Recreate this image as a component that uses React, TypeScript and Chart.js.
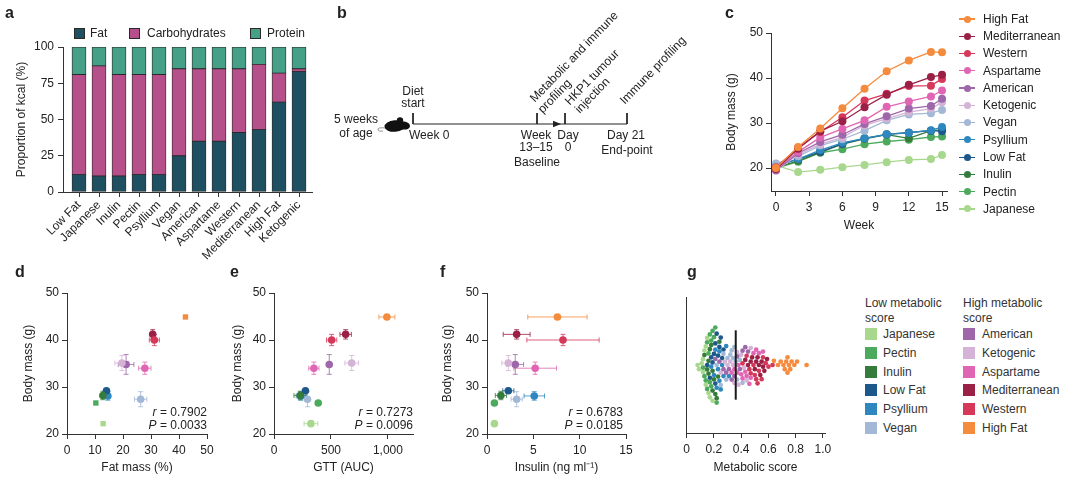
import React, { useEffect, useRef } from 'react';
import { Chart, registerables } from 'chart.js';
Chart.register(...registerables);

const FONT = '"Liberation Sans", Arial, Helvetica, sans-serif';
const INK = '#222222';
const AXIS = '#333333';
Chart.defaults.font.family = FONT;
Chart.defaults.color = INK;

// ---------- Panel a: macronutrient composition ----------
const kcalDiets = ['Low Fat', 'Japanese', 'Inulin', 'Pectin', 'Psyllium', 'Vegan', 'American', 'Aspartame', 'Western', 'Mediterranean', 'High Fat', 'Ketogenic'];
const kcalFat = [12, 11, 11, 12, 12, 25, 35, 35, 41, 43, 62, 83];
const kcalCarbohydrates = [69, 76, 70, 69, 69, 60, 50, 50, 44, 45, 20, 2];
const kcalProtein = [19, 13, 19, 19, 19, 15, 15, 15, 15, 12, 18, 15];
const kcalTicks = [0, 25, 50, 75, 100];
const FAT_C = '#1f5062';
const CARB_C = '#b5508b';
const PROT_C = '#46a087';

// ---------- Diets ----------
const dietNames = ['High Fat', 'Mediterranean', 'Western', 'Aspartame', 'American', 'Ketogenic', 'Vegan', 'Psyllium', 'Low Fat', 'Inulin', 'Pectin', 'Japanese'];
const dietColors: Record<string, string> = {
  'High Fat': '#f58b3c',
  'Mediterranean': '#9a2045',
  'Western': '#d6385a',
  'Aspartame': '#e066b4',
  'American': '#9e67a9',
  'Ketogenic': '#d4b3d6',
  'Vegan': '#a3b8d6',
  'Psyllium': '#2e88bf',
  'Low Fat': '#1c5889',
  'Inulin': '#357b3c',
  'Pectin': '#4caa5c',
  'Japanese': '#a8d88e',
};

// ---------- Panel c: body mass over time ----------
const weeks = [0, 2, 4, 6, 8, 10, 12, 14, 15];
const weekTicks = [0, 3, 6, 9, 12, 15];
const massTicks = [20, 30, 40, 50];
const massHighFat = [20.0, 24.7, 28.8, 33.3, 37.6, 41.5, 43.9, 45.8, 45.7];
const massMediterranean = [19.8, 24.3, 28.2, 30.4, 33.5, 36.3, 38.5, 40.2, 40.7];
const massWestern = [20.2, 24.5, 28.0, 31.3, 35.0, 36.5, 38.2, 38.3, 39.8];
const massAspartame = [19.8, 23.6, 26.8, 28.7, 30.6, 33.6, 34.8, 35.9, 37.2];
const massAmerican = [19.5, 23.3, 25.8, 27.4, 29.8, 31.5, 33.2, 33.8, 35.4];
const massKetogenic = [19.4, 23.0, 25.3, 26.8, 29.5, 31.0, 32.4, 33.2, 34.6];
const massVegan = [21.0, 22.6, 25.0, 26.4, 28.3, 30.6, 31.9, 32.2, 32.9];
const massPsyllium = [20.6, 22.0, 24.0, 25.6, 26.6, 27.5, 27.8, 28.4, 29.1];
const massLowFat = [20.5, 22.0, 23.6, 25.4, 26.6, 27.5, 27.9, 28.3, 28.2];
const massInulin = [20.1, 21.6, 23.5, 25.3, 26.5, 27.4, 26.6, 28.3, 28.5];
const massPectin = [20.0, 21.4, 23.4, 24.2, 25.3, 25.9, 26.3, 26.9, 27.0];
const massJapanese = [20.6, 19.1, 19.6, 20.2, 20.7, 21.3, 21.8, 22.0, 22.9];
const massByDiet: Record<string, number[]> = {
  'High Fat': massHighFat, 'Mediterranean': massMediterranean, 'Western': massWestern,
  'Aspartame': massAspartame, 'American': massAmerican, 'Ketogenic': massKetogenic,
  'Vegan': massVegan, 'Psyllium': massPsyllium, 'Low Fat': massLowFat,
  'Inulin': massInulin, 'Pectin': massPectin, 'Japanese': massJapanese,
};

// ---------- Panels d-f (order = dietNames) ----------
const bodyMass = [44.9, 41.2, 40.0, 34.0, 34.8, 35.1, 27.4, 28.1, 29.2, 28.2, 26.6, 22.2];
const bodyMassErr = [0.2, 1.0, 1.2, 1.3, 2.1, 1.6, 1.6, 0.9, 0.7, 0.9, 0.4, 0.3];
const fatMass = [42.3, 30.6, 31.2, 27.8, 21.1, 19.6, 26.3, 14.6, 14.1, 12.8, 10.3, 12.9];
const fatMassErr = [0.4, 1.0, 1.8, 2.2, 2.8, 2.5, 2.2, 0.9, 0.8, 0.9, 0.5, 0.5];
const gtt = [991, 629, 506, 350, 485, 682, 294, 235, 276, 230, 388, 324];
const gttErr = [70, 50, 45, 45, 25, 60, 35, 40, 30, 55, 30, 60];
const insulin = [7.6, 3.2, 8.2, 5.2, 3.05, 2.3, 3.2, 5.1, 2.3, 1.5, 0.8, 0.8];
const insulinErr = [3.2, 1.45, 3.9, 2.3, 0.9, 0.7, 0.6, 1.1, 0.6, 0.6, 0.3, 0.3];
const fatTicks = [0, 10, 20, 30, 40, 50];
const gttTicks = [0, 500, 1000];
const insulinTicks = [0, 5, 10, 15];
const bodyTicks = [20, 30, 40, 50];

// ---------- Panel g: metabolic score per mouse ----------
const scoreJapanese = [0.08, 0.09, 0.11, 0.12, 0.12, 0.13, 0.14, 0.14, 0.15, 0.16, 0.17, 0.19];
const scorePectin = [0.12, 0.13, 0.14, 0.15, 0.15, 0.16, 0.17, 0.17, 0.18, 0.18, 0.19, 0.20, 0.21, 0.22];
const scoreInulin = [0.13, 0.15, 0.16, 0.16, 0.17, 0.18, 0.19, 0.19, 0.20, 0.21, 0.22, 0.23, 0.24];
const scoreLowFat = [0.15, 0.17, 0.18, 0.19, 0.20, 0.21, 0.21, 0.22, 0.23, 0.24, 0.25, 0.26, 0.27];
const scorePsyllium = [0.18, 0.20, 0.21, 0.22, 0.23, 0.24, 0.24, 0.25, 0.26, 0.27, 0.29, 0.31];
const scoreVegan = [0.22, 0.25, 0.27, 0.29, 0.30, 0.32, 0.33, 0.34, 0.35, 0.36, 0.37, 0.39, 0.41];
const scoreAmerican = [0.21, 0.24, 0.27, 0.29, 0.31, 0.33, 0.35, 0.37, 0.39, 0.41, 0.43, 0.45];
const scoreKetogenic = [0.25, 0.28, 0.30, 0.32, 0.34, 0.35, 0.37, 0.38, 0.40, 0.42, 0.44, 0.47];
const scoreAspartame = [0.33, 0.35, 0.37, 0.38, 0.40, 0.41, 0.43, 0.44, 0.46, 0.47, 0.49, 0.51, 0.53, 0.56];
const scoreWestern = [0.41, 0.44, 0.46, 0.47, 0.49, 0.50, 0.51, 0.52, 0.53, 0.55, 0.56, 0.58, 0.60, 0.63];
const scoreMediterranean = [0.43, 0.45, 0.47, 0.48, 0.50, 0.51, 0.52, 0.53, 0.54, 0.55, 0.56, 0.57, 0.59];
const scoreHighFat = [0.64, 0.67, 0.69, 0.71, 0.72, 0.73, 0.74, 0.74, 0.75, 0.76, 0.77, 0.79, 0.81, 0.88];
const scoreByDiet: Record<string, number[]> = {
  'High Fat': scoreHighFat, 'Mediterranean': scoreMediterranean, 'Western': scoreWestern,
  'Aspartame': scoreAspartame, 'American': scoreAmerican, 'Ketogenic': scoreKetogenic,
  'Vegan': scoreVegan, 'Psyllium': scorePsyllium, 'Low Fat': scoreLowFat,
  'Inulin': scoreInulin, 'Pectin': scorePectin, 'Japanese': scoreJapanese,
};
const scoreThreshold = 0.36;
const scoreTicks = [0, 0.2, 0.4, 0.6, 0.8, 1.0];
const lowScoreDiets = ['Japanese', 'Pectin', 'Inulin', 'Low Fat', 'Psyllium', 'Vegan'];
const highScoreDiets = ['American', 'Ketogenic', 'Aspartame', 'Mediterranean', 'Western', 'High Fat'];

// ---------- Panel b: timeline (diagram units) ----------
const timelineStops = [93, 217, 245, 307];
const timelineArrowAt = 240;
const timelineLevel = 124;
const timelineTick = 11;

// beeswarm layout (pixel-space packing, converted back to data units)
function beeswarm(pxPerX: number, pxPerY: number, diam: number) {
  const items: { name: string; x: number }[] = [];
  dietNames.forEach((n) => scoreByDiet[n].forEach((v) => items.push({ name: n, x: v })));
  items.sort((a, b) => a.x - b.x || dietNames.indexOf(a.name) - dietNames.indexOf(b.name));
  const placed: { px: number; py: number; name: string; x: number }[] = [];
  items.forEach((it, k) => {
    const px = it.x * pxPerX;
    const near = placed.filter((p) => Math.abs(p.px - px) < diam);
    const cands = [0];
    near.forEach((p) => {
      const dy = Math.sqrt(diam * diam - (p.px - px) ** 2);
      if (k % 2) cands.push(p.py - dy, p.py + dy); else cands.push(p.py + dy, p.py - dy);
    });
    cands.sort((a, b) => Math.abs(a) - Math.abs(b));
    let chosen = 0;
    for (const c of cands) {
      if (near.every((p) => (p.px - px) ** 2 + (p.py - c) ** 2 >= diam * diam - 1e-6)) { chosen = c; break; }
    }
    placed.push({ px, py: chosen, name: it.name, x: it.x });
  });
  const out: Record<string, { x: number; y: number }[]> = {};
  dietNames.forEach((n) => (out[n] = []));
  placed.forEach((p) => out[p.name].push({ x: p.x, y: p.py / pxPerY }));
  return out;
}

const fixedTicks = (vals: number[]) => (s: any) => { s.ticks = vals.map((v) => ({ value: v })); };
const tickFont = { family: FONT, size: 12 };
const titleFont = { family: FONT, size: 12 };
const gridStyle = { display: true, drawOnChartArea: false, drawTicks: true, tickLength: 5, color: AXIS, lineWidth: 1 };
const borderStyle = { display: true, color: AXIS, width: 1 };
const commonOpts = {
  animation: false,
  responsive: false,
  events: [],
  plugins: { legend: { display: false }, tooltip: { enabled: false } },
};

const errorBars = {
  id: 'errorBars',
  beforeDatasetsDraw(chart: any) {
    const { ctx } = chart;
    const xs = chart.scales.x;
    const ys = chart.scales.y;
    chart.data.datasets.forEach((ds: any) => {
      if (!ds.errX) return;
      ctx.save();
      ctx.lineWidth = 1;
      ctx.globalAlpha = 0.8;
      ds.data.forEach((p: any, j: number) => {
        const col = Array.isArray(ds.backgroundColor) ? ds.backgroundColor[j] : ds.backgroundColor;
        ctx.strokeStyle = col;
        const px = xs.getPixelForValue(p.x);
        const py = ys.getPixelForValue(p.y);
        const x1 = xs.getPixelForValue(p.x - ds.errX[j]);
        const x2 = xs.getPixelForValue(p.x + ds.errX[j]);
        const y1 = ys.getPixelForValue(p.y - ds.errY[j]);
        const y2 = ys.getPixelForValue(p.y + ds.errY[j]);
        const c = 2.5;
        ctx.beginPath();
        if (x2 - x1 > 8) {
          ctx.moveTo(x1, py); ctx.lineTo(x2, py);
          ctx.moveTo(x1, py - c); ctx.lineTo(x1, py + c);
          ctx.moveTo(x2, py - c); ctx.lineTo(x2, py + c);
        }
        if (y1 - y2 > 8) {
          ctx.moveTo(px, y1); ctx.lineTo(px, y2);
          ctx.moveTo(px - c, y1); ctx.lineTo(px + c, y1);
          ctx.moveTo(px - c, y2); ctx.lineTo(px + c, y2);
        }
        ctx.stroke();
      });
      ctx.restore();
    });
  },
};

const timelineArt = {
  id: 'timelineArt',
  afterDatasetsDraw(chart: any) {
    const { ctx } = chart;
    const xs = chart.scales.x;
    const ys = chart.scales.y;
    const ax = xs.getPixelForValue(timelineArrowAt);
    const ay = ys.getPixelForValue(timelineLevel);
    ctx.save();
    ctx.fillStyle = INK;
    ctx.beginPath();
    ctx.moveTo(ax - 7, ay - 3.2);
    ctx.lineTo(ax + 1, ay);
    ctx.lineTo(ax - 7, ay + 3.2);
    ctx.closePath();
    ctx.fill();
    // mouse silhouette
    const mx = xs.getPixelForValue(75);
    const my = ys.getPixelForValue(126);
    ctx.strokeStyle = '#888';
    ctx.lineWidth = 0.9;
    ctx.beginPath();
    ctx.moveTo(mx - 9, my + 2);
    ctx.quadraticCurveTo(mx - 18, my + 1, mx - 17, my + 4);
    ctx.quadraticCurveTo(mx - 16, my + 6, mx - 12, my + 5);
    ctx.stroke();
    ctx.fillStyle = '#111';
    ctx.beginPath();
    ctx.ellipse(mx, my, 10.5, 5.8, -0.08, 0, Math.PI * 2);
    ctx.fill();
    ctx.beginPath();
    ctx.ellipse(mx + 9, my - 0.5, 6, 4, 0.15, 0, Math.PI * 2);
    ctx.fill();
    ctx.beginPath();
    ctx.arc(mx + 5, my - 5.5, 3.2, 0, Math.PI * 2);
    ctx.fill();
    ctx.restore();
  },
};

function scatterPanel(xVals: number[], xErr: number[], xMax: number, xTicks: number[], xTitle: string, yW: number, padRight: number, yTitlePad: number, styles?: string[]) {
  return {
    type: 'scatter',
    data: {
      datasets: [{
        data: xVals.map((v, i) => ({ x: v, y: bodyMass[i] })),
        backgroundColor: dietNames.map((n) => dietColors[n]),
        pointRadius: 3.8,
        pointBorderWidth: 0,
        pointStyle: styles || 'circle',
        errX: xErr,
        errY: bodyMassErr,
        clip: false,
      }],
    },
    options: {
      ...commonOpts,
      layout: { padding: { left: 0, top: 31, right: padRight, bottom: 0 } },
      scales: {
        x: {
          type: 'linear', min: 0, max: xMax,
          afterBuildTicks: fixedTicks(xTicks),
          grid: gridStyle, border: borderStyle,
          ticks: { font: tickFont, color: INK, padding: 4 },
          title: { display: true, text: xTitle, font: titleFont, color: INK, padding: { top: 0, bottom: 2 } },
          afterFit: (s: any) => { s.height = 43; },
        },
        y: {
          type: 'linear', min: 20, max: 50,
          afterBuildTicks: fixedTicks(bodyTicks),
          grid: gridStyle, border: borderStyle,
          ticks: { font: tickFont, color: INK, padding: 3 },
          title: { display: true, text: 'Body mass (g)', font: titleFont, color: INK, padding: { top: yTitlePad, bottom: 0 } },
          afterFit: (s: any) => { s.width = yW; },
        },
      },
    },
    plugins: [errorBars],
  };
}

type TP = { x: number; y: number; size?: number; align?: 'left' | 'center' | 'right'; bold?: boolean; rot?: number; color?: string; children: React.ReactNode };
function Txt({ x, y, size = 12, align = 'left', bold = false, rot = 0, color = INK, children }: TP) {
  const lh = size * 1.2;
  const style: React.CSSProperties = {
    position: 'absolute', top: y - size * 0.6, height: lh, lineHeight: `${lh}px`,
    fontSize: size, fontWeight: bold ? 700 : 400, whiteSpace: 'nowrap', color, fontFamily: FONT,
  };
  if (rot) {
    style.left = x;
    style.transformOrigin = `0px ${size * 0.6}px`;
    style.transform = `rotate(${rot}deg)`;
  } else if (align === 'left') style.left = x;
  else if (align === 'center') { style.left = x; style.transform = 'translateX(-50%)'; }
  else style.right = 1080 - x;
  return <div style={style}>{children}</div>;
}

function Box({ x, y, w, h, color, border }: { x: number; y: number; w: number; h: number; color: string; border?: string }) {
  return <div style={{ position: 'absolute', left: x, top: y, width: w, height: h, background: color, boxSizing: 'border-box', border: border ? `1px solid ${border}` : undefined }} />;
}

const canvasBoxes = {
  a: [0, 0, 320, 265],
  b: [320, 0, 380, 200],
  c: [690, 0, 270, 240],
  d: [0, 262, 222, 215],
  e: [222, 262, 210, 215],
  f: [432, 262, 210, 215],
  g: [642, 262, 200, 215],
};

export default function App() {
  const refs = {
    a: useRef<HTMLCanvasElement>(null), b: useRef<HTMLCanvasElement>(null), c: useRef<HTMLCanvasElement>(null),
    d: useRef<HTMLCanvasElement>(null), e: useRef<HTMLCanvasElement>(null), f: useRef<HTMLCanvasElement>(null),
    g: useRef<HTMLCanvasElement>(null),
  };

  useEffect(() => {
    document.body.style.margin = '0';
    const charts: Chart[] = [];

    // a
    const barDs = (label: string, vals: number[], color: string) => ({
      label, data: vals.map((v, i) => ({ x: i, y: v })), backgroundColor: color,
      borderColor: '#2a2a2a', borderWidth: 0.8, borderSkipped: false, barThickness: 14,
    });
    charts.push(new Chart(refs.a.current!, {
      type: 'bar',
      data: { datasets: [barDs('Fat', kcalFat, FAT_C), barDs('Carbohydrates', kcalCarbohydrates, CARB_C), barDs('Protein', kcalProtein, PROT_C)] },
      options: {
        ...commonOpts,
        layout: { padding: { left: 0, top: 47, right: 8, bottom: 0 } },
        scales: {
          x: {
            type: 'linear', stacked: true, min: -0.8, max: 11.65, offset: false,
            afterBuildTicks: fixedTicks(kcalDiets.map((_, i) => i)),
            grid: { ...gridStyle, offset: false }, border: borderStyle,
            ticks: { font: tickFont, color: INK, padding: 1, minRotation: 45, maxRotation: 45, autoSkip: false, callback: (v: any) => kcalDiets[v] },
            afterFit: (s: any) => { s.height = 73; },
          },
          y: {
            type: 'linear', stacked: true, min: 0, max: 100,
            afterBuildTicks: fixedTicks(kcalTicks),
            grid: gridStyle, border: borderStyle,
            ticks: { font: tickFont, color: INK, padding: 4 },
            title: { display: true, text: 'Proportion of kcal (%)', font: titleFont, color: INK, padding: { top: 14, bottom: 0 } },
            afterFit: (s: any) => { s.width = 63; },
          },
        },
      },
    } as any));

    // b
    const lineDs = (pts: { x: number; y: number }[]) => ({ data: pts, borderColor: INK, borderWidth: 1, pointRadius: 0, clip: false });
    charts.push(new Chart(refs.b.current!, {
      type: 'line',
      data: {
        datasets: [
          lineDs([{ x: timelineStops[0], y: timelineLevel }, { x: timelineStops[timelineStops.length - 1], y: timelineLevel }]),
          ...timelineStops.map((s) => lineDs([{ x: s, y: timelineLevel - timelineTick }, { x: s, y: timelineLevel }])),
        ],
      },
      options: {
        ...commonOpts,
        layout: { padding: 0 },
        scales: {
          x: { type: 'linear', display: false, min: 0, max: 380 },
          y: { type: 'linear', display: false, min: 0, max: 200, reverse: true },
        },
      },
      plugins: [timelineArt],
    } as any));

    // c
    charts.push(new Chart(refs.c.current!, {
      type: 'line',
      data: {
        datasets: dietNames.map((n) => ({
          label: n,
          data: weeks.map((w, i) => ({ x: w, y: massByDiet[n][i] })),
          borderColor: dietColors[n], backgroundColor: dietColors[n],
          borderWidth: 1.3, pointRadius: 4, pointBorderWidth: 0, clip: false,
        })),
      },
      options: {
        ...commonOpts,
        layout: { padding: { left: 0, top: 33, right: 13, bottom: 0 } },
        scales: {
          x: {
            type: 'linear', min: -0.45, max: 15.45,
            afterBuildTicks: fixedTicks(weekTicks),
            grid: gridStyle, border: borderStyle,
            ticks: { font: tickFont, color: INK, padding: 4 },
            title: { display: true, text: 'Week', font: titleFont, color: INK, padding: { top: 0, bottom: 7 } },
            afterFit: (s: any) => { s.height = 49; },
          },
          y: {
            type: 'linear', min: 14.9, max: 50,
            afterBuildTicks: fixedTicks(massTicks),
            grid: gridStyle, border: borderStyle,
            ticks: { font: tickFont, color: INK, padding: 3 },
            title: { display: true, text: 'Body mass (g)', font: titleFont, color: INK, padding: { top: 34, bottom: 0 } },
            afterFit: (s: any) => { s.width = 81; },
          },
        },
      },
    } as any));

    // d, e, f
    const dStyles = dietNames.map((n) => (n === 'High Fat' || n === 'Japanese' || n === 'Pectin' ? 'rect' : 'circle'));
    charts.push(new Chart(refs.d.current!, scatterPanel(fatMass, fatMassErr, 50, fatTicks, 'Fat mass (%)', 67, 15, 21, dStyles) as any));
    charts.push(new Chart(refs.e.current!, scatterPanel(gtt, gttErr, 1220, gttTicks, 'GTT (AUC)', 52, 19, 8) as any));
    charts.push(new Chart(refs.f.current!, scatterPanel(insulin, insulinErr, 15, insulinTicks, 'Insulin (ng ml\u207B\u00B9)', 55, 16, 8) as any));

    // g
    const swarm = beeswarm(139 / 1.02, 68, 4.4);
    charts.push(new Chart(refs.g.current!, {
      type: 'scatter',
      data: {
        datasets: [
          {
            type: 'line', data: [{ x: scoreThreshold, y: -0.51 }, { x: scoreThreshold, y: 0.51 }],
            borderColor: '#1a1a1a', borderWidth: 2, pointRadius: 0, order: 0,
          },
          ...dietNames.map((n) => ({
            data: swarm[n], backgroundColor: dietColors[n], pointRadius: 2.35, pointBorderWidth: 0, order: 1, clip: false,
          })),
        ],
      },
      options: {
        ...commonOpts,
        layout: { padding: { left: 0, top: 35, right: 17, bottom: 0 } },
        scales: {
          x: {
            type: 'linear', min: -0.005, max: 1.015,
            afterBuildTicks: fixedTicks(scoreTicks),
            grid: gridStyle, border: borderStyle,
            ticks: { font: tickFont, color: INK, padding: 4, callback: (v: any) => (v === 0 ? '0' : Number(v).toFixed(1)) },
            title: { display: true, text: 'Metabolic score', font: titleFont, color: INK, padding: { top: 0, bottom: 2 } },
            afterFit: (s: any) => { s.height = 44; },
          },
          y: {
            type: 'linear', min: -1, max: 1,
            grid: { display: false }, border: borderStyle,
            ticks: { display: false },
            afterFit: (s: any) => { s.width = 44; },
          },
        },
      },
    } as any));

    return () => charts.forEach((c) => c.destroy());
  }, []);

  const cv = (k: keyof typeof canvasBoxes) => {
    const [l, t, w, h] = canvasBoxes[k];
    return <canvas key={k} ref={refs[k]} width={w} height={h} style={{ position: 'absolute', left: l, top: t, width: w, height: h }} />;
  };

  return (
    <div style={{ position: 'relative', width: 1080, height: 477, background: '#ffffff', overflow: 'hidden', fontFamily: FONT, color: INK }}>
      {cv('a')}{cv('b')}{cv('c')}{cv('d')}{cv('e')}{cv('f')}{cv('g')}

      {/* panel letters */}
      <Txt x={5} y={12.3} size={16} bold>a</Txt>
      <Txt x={337} y={12.3} size={16} bold>b</Txt>
      <Txt x={725} y={12.3} size={16} bold>c</Txt>
      <Txt x={15} y={271.3} size={16} bold>d</Txt>
      <Txt x={230} y={271.3} size={16} bold>e</Txt>
      <Txt x={440} y={271.3} size={16} bold>f</Txt>
      <Txt x={687} y={271.3} size={16} bold>g</Txt>

      {/* panel a legend */}
      <Box x={74} y={28} w={11} h={11} color={FAT_C} border="#2a2a2a" />
      <Txt x={90} y={33.5}>Fat</Txt>
      <Box x={129} y={28} w={11} h={11} color={CARB_C} border="#2a2a2a" />
      <Txt x={147} y={33.5}>Carbohydrates</Txt>
      <Box x={250} y={28} w={11} h={11} color={PROT_C} border="#2a2a2a" />
      <Txt x={267} y={33.5}>Protein</Txt>

      {/* panel b texts */}
      <Txt x={356} y={119} align="center">5 weeks</Txt>
      <Txt x={356} y={133} align="center">of age</Txt>
      <Txt x={413} y={91} align="center">Diet</Txt>
      <Txt x={413} y={103} align="center">start</Txt>
      <Txt x={409} y={135}>Week 0</Txt>
      <Txt x={536} y={135} align="center">Week</Txt>
      <Txt x={536} y={147} align="center">13–15</Txt>
      <Txt x={537} y={162} align="center">Baseline</Txt>
      <Txt x={568} y={135} align="center">Day</Txt>
      <Txt x={568} y={147} align="center">0</Txt>
      <Txt x={626} y={135} align="center">Day 21</Txt>
      <Txt x={627} y={150} align="center">End-point</Txt>
      <Txt x={532} y={100} rot={-46}>Metabolic and immune</Txt>
      <Txt x={540} y={111} rot={-46}>profiling</Txt>
      <Txt x={567} y={103} rot={-46}>HKP1 tumour</Txt>
      <Txt x={577} y={111} rot={-46}>injection</Txt>
      <Txt x={622} y={102} rot={-46}>Immune profiling</Txt>

      {/* panel c legend */}
      {dietNames.map((n, i) => {
        const y = 19 + i * 17.27;
        return (
          <React.Fragment key={n}>
            <div style={{ position: 'absolute', left: 959, top: y - 0.6, width: 16, height: 1.2, background: dietColors[n] }} />
            <div style={{ position: 'absolute', left: 963.5, top: y - 3.5, width: 7, height: 7, borderRadius: '50%', background: dietColors[n] }} />
            <Txt x={983} y={y}>{n}</Txt>
          </React.Fragment>
        );
      })}

      {/* correlation annotations */}
      <Txt x={207} y={412} align="right"><i>r</i> = 0.7902</Txt>
      <Txt x={207} y={425.5} align="right"><i>P</i> = 0.0033</Txt>
      <Txt x={413} y={412} align="right"><i>r</i> = 0.7273</Txt>
      <Txt x={413} y={425.5} align="right"><i>P</i> = 0.0096</Txt>
      <Txt x={623} y={412} align="right"><i>r</i> = 0.6783</Txt>
      <Txt x={623} y={425.5} align="right"><i>P</i> = 0.0185</Txt>

      {/* panel g legend */}
      <Txt x={865} y={303.3} color="#333">Low metabolic</Txt>
      <Txt x={865} y={317.7} color="#333">score</Txt>
      <Txt x={963} y={303.3} color="#333">High metabolic</Txt>
      <Txt x={963} y={317.7} color="#333">score</Txt>
      {lowScoreDiets.map((n, i) => (
        <React.Fragment key={n}>
          <Box x={865} y={334.3 + i * 18.7 - 6} w={12} h={12} color={dietColors[n]} />
          <Txt x={883} y={334.3 + i * 18.7} color="#333">{n}</Txt>
        </React.Fragment>
      ))}
      {highScoreDiets.map((n, i) => (
        <React.Fragment key={n}>
          <Box x={963} y={334.3 + i * 18.7 - 6} w={12} h={12} color={dietColors[n]} />
          <Txt x={982} y={334.3 + i * 18.7} color="#333">{n}</Txt>
        </React.Fragment>
      ))}
    </div>
  );
}
